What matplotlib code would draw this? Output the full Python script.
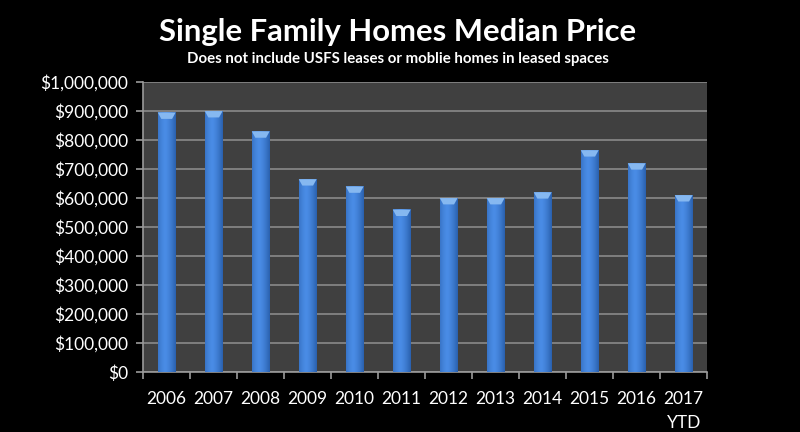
import numpy as np
import matplotlib.pyplot as plt
from matplotlib.ticker import FuncFormatter, FixedLocator

years = ['2006', '2007', '2008', '2009', '2010', '2011',
         '2012', '2013', '2014', '2015', '2016', '2017\nYTD']
prices = [895000, 900000, 830000, 665000, 640000, 560000,
          600000, 600000, 620000, 765000, 720000, 610000]

plt.rcParams['font.family'] = ['Lato', 'DejaVu Sans']

fig = plt.figure(figsize=(8, 4.32), dpi=100, facecolor='black')
ax = fig.add_axes([0.179, 0.139, 0.705, 0.671])
ax.set_facecolor('#404040')

x = np.arange(len(years))
w = 0.38
bars = ax.bar(x, prices, width=w, color='#3a7bd0', zorder=3)

# horizontal gradient to fake the rounded look of the bars
grad = np.linspace(0, 1, 64)
shade = 1 - 0.6 * (2 * np.abs(grad - 0.4)) ** 1.5
img = np.zeros((1, 64, 3))
img[0, :, 0] = 0.13 + 0.16 * shade
img[0, :, 1] = 0.33 + 0.22 * shade
img[0, :, 2] = 0.62 + 0.28 * shade
for b in bars:
    bx, bw, bh = b.get_x(), b.get_width(), b.get_height()
    ax.imshow(img, extent=[bx, bx + bw, 0, bh], aspect='auto', zorder=3.5)
    # lighter cap on top
    cap = 22000
    ax.fill([bx, bx + bw, bx + bw * 0.8, bx + bw * 0.2],
            [bh, bh, bh - cap, bh - cap], color='#86b8f0', zorder=4, lw=0)

ax.set_xlim(-0.5, len(years) - 0.5)
ax.set_ylim(0, 1000000)
ax.set_yticks(np.arange(0, 1000001, 100000))
ax.yaxis.set_major_formatter(FuncFormatter(lambda v, p: '${:,.0f}'.format(v)))
ax.grid(axis='y', color='#8a8a8a', lw=1.2, zorder=1)

ax.set_xticks(x)
ax.set_xticklabels(years, fontsize=12.5, color='white', linespacing=1.6,
                   verticalalignment='top')
ax.xaxis.set_minor_locator(FixedLocator(np.arange(-0.5, len(years), 1)))
ax.tick_params(axis='x', which='major', length=0, pad=14)
ax.tick_params(axis='x', which='minor', length=5, color='#9a9a9a', width=1.2)
ax.tick_params(axis='y', labelsize=12.5, labelcolor='white', length=5,
               color='#9a9a9a', width=1.2, pad=6)

for side in ['top', 'right']:
    ax.spines[side].set_visible(False)
ax.spines['left'].set_color('#9a9a9a')
ax.spines['bottom'].set_color('#9a9a9a')
ax.spines['left'].set_linewidth(1.2)
ax.spines['bottom'].set_linewidth(1.2)

fig.text(0.497, 0.925, 'Single Family Homes Median Price', ha='center', va='center',
         color='white', fontsize=22.3, fontweight='bold')
fig.text(0.497, 0.864, 'Does not include USFS leases or moblie homes in leased spaces',
         ha='center', va='center', color='white', fontsize=10.8, fontweight='bold')

fig.savefig('out.png', dpi=100, facecolor='black')
